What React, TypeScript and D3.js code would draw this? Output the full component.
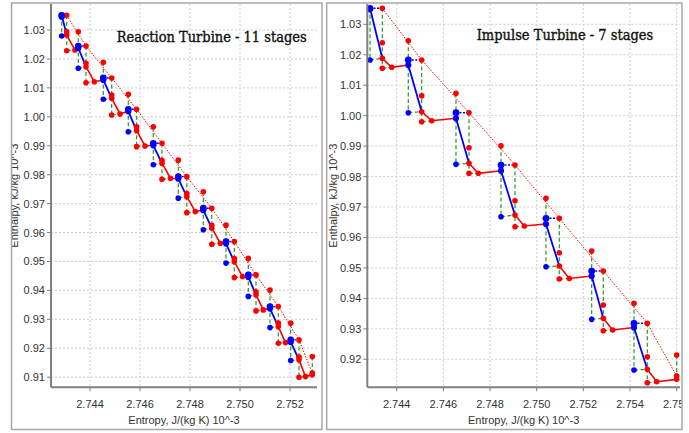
import React from "react";
import * as d3 from "d3";

// ---------- Reaction turbine – 11 stages ----------
const reactSIn = [2.742868, 2.743532, 2.744532, 2.745532, 2.746532, 2.747532, 2.748532, 2.74944, 2.750332, 2.7512, 2.752028];
const reactSNoz = [2.743068, 2.74384, 2.744868, 2.745864, 2.74688, 2.747872, 2.748872, 2.749772, 2.75064, 2.751532, 2.75236];
const reactSRot = [2.7434, 2.744172, 2.7452, 2.7462, 2.74722, 2.748212, 2.749212, 2.7501, 2.750932, 2.75182, 2.75262];
const reactHIn = [1.03508, 1.02447, 1.01342, 1.0026, 0.99085, 0.97931, 0.9684, 0.95686, 0.94535, 0.9344, 0.92289];
const reactHInAct = [1.03456, 1.02378, 1.01273, 1.00191, 0.99016, 0.97862, 0.96771, 0.95617, 0.94466, 0.93371, 0.9222];
const reactHIsen = [1.02793, 1.01677, 1.00606, 0.99486, 0.98343, 0.97188, 0.96097, 0.94943, 0.93792, 0.92714, 0.91574];
const reactHMid = [1.02941, 1.0185, 1.00754, 0.99659, 0.98498, 0.97344, 0.96252, 0.95098, 0.93947, 0.92867, 0.91692];
const reactHNoz = [1.02827, 1.01732, 1.0064, 0.99521, 0.98394, 0.9724, 0.96149, 0.94994, 0.93844, 0.92749, 0.91599];
const reactHRotIs = [1.02285, 1.01179, 1.00063, 0.98968, 0.97842, 0.96688, 0.95596, 0.94442, 0.93291, 0.92175, 0.90999];
const reactHRot = [1.02309, 1.01214, 1.00098, 0.98992, 0.97876, 0.96723, 0.95631, 0.94477, 0.93326, 0.92196, 0.9102];
const reactHAboveNext = [1.02941, 1.01884, 1.00778, 0.99659, 0.98502, 0.9741, 0.96256, 0.95105, 0.9401, 0.92867, 0.91713];
const reactSEnd = 2.752892;
const reactHEnd = 0.91139;
const reactHEndAct = 0.9108;

// ---------- Impulse turbine – 7 stages ----------
const impSIn = [2.742856, 2.744497, 2.746541, 2.74847, 2.750399, 2.752357, 2.75417];
const impSNoz = [2.743383, 2.745071, 2.747099, 2.74907, 2.750969, 2.752854, 2.75474];
const impSRot = [2.743786, 2.7455, 2.747497, 2.749469, 2.751397, 2.753257, 2.755143];
const impHIn = [1.03525, 1.01828, 1.00097, 0.98379, 0.96629, 0.94898, 0.93181];
const impHInAct = [1.03493, 1.01663, 0.99913, 0.98192, 0.96442, 0.94734, 0.93043];
const impHIsen = [1.01828, 1.00097, 0.98402, 0.96681, 0.95039, 0.93312, 0.91647];
const impHMid = [1.02396, 1.00655, 0.98947, 0.97207, 0.95499, 0.93782, 0.92084];
const impHNoz = [1.01883, 1.0013, 0.98435, 0.96737, 0.95062, 0.93345, 0.9167];
const impHRotIs = [1.01555, 0.99801, 0.98107, 0.96353, 0.94635, 0.92938, 0.9123];
const impHRot = [1.01588, 0.99834, 0.98107, 0.96376, 0.94652, 0.92961, 0.91263];
const impHAboveNext = [1.02461, 1.00734, 0.99013, 0.97286, 0.95555, 0.93837, 0.9214];
const impSEnd = 2.756;
const impHEnd = 0.9145;
const impHEndAct = 0.91341;

// ---------- ticks ----------
const reactXTicks = [2.744, 2.746, 2.748, 2.75, 2.752];
const reactYTicks = [1.03, 1.02, 1.01, 1.0, 0.99, 0.98, 0.97, 0.96, 0.95, 0.94, 0.93, 0.92, 0.91];
const impXTicks = [2.744, 2.746, 2.748, 2.75, 2.752, 2.754, 2.756];
const impYTicks = [1.03, 1.02, 1.01, 1.0, 0.99, 0.98, 0.97, 0.96, 0.95, 0.94, 0.93, 0.92];

const reactTitle = "Reaction Turbine - 11 stages";
const impTitle = "Impulse Turbine - 7 stages";
const xAxisTitle = "Entropy, J/(kg K) 10^-3";
const yAxisTitle = "Enthalpy, kJ/kg 10^-3";

type StageData = {
  sIn: number[]; sNoz: number[]; sRot: number[]; sEnd: number;
  hIn: number[]; hInAct: number[]; hIsen: number[]; hMid: number[]; hNoz: number[];
  hRotIs: number[]; hRot: number[]; hAboveNext: number[]; hEnd: number; hEndAct: number;
};

const BLUE = "#0000ff";
const RED = "#ff0000";
const GREEN = "#2a952a";
const SANS = "'Liberation Sans', Arial, sans-serif";

type PanelProps = {
  id: string;
  data: StageData;
  frame: { l: number; t: number; r: number; b: number };
  plot: { l: number; t: number; r: number; b: number };
  xDomain: [number, number];
  yDomain: [number, number];
  xTicks: number[];
  yTicks: number[];
  title: string;
  titleX: number;
  titleY: number;
  titleW: number;
  yTitleX: number;
};

function Panel(p: PanelProps) {
  const { data, plot, frame } = p;
  const x = d3.scaleLinear().domain(p.xDomain).range([plot.l, plot.r]);
  const y = d3.scaleLinear().domain(p.yDomain).range([plot.b, plot.t]);
  const n = data.sIn.length;
  const nextS = (i: number) => (i < n - 1 ? data.sIn[i + 1] : data.sEnd);
  const nextHIn = (i: number) => (i < n - 1 ? data.hIn[i + 1] : data.hEnd);
  const nextHAct = (i: number) => (i < n - 1 ? data.hInAct[i + 1] : data.hEndAct);
  const line = d3.line<[number, number]>().x((d) => x(d[0])).y((d) => y(d[1]));

  const green: [number, number][][] = [];
  const blueDot: [number, number][][] = [];
  const redSolid: [number, number][][] = [];
  const blueSolid: [number, number][][] = [];
  const redPts: [number, number][] = [];
  const bluePts: { p: [number, number]; r: number }[] = [];
  const redDotted: [number, number][] = [];

  for (let i = 0; i < n; i++) {
    const sIn = data.sIn[i], sNoz = data.sNoz[i], sRot = data.sRot[i];
    green.push([[sIn, data.hIn[i]], [sIn, data.hIsen[i]]]);
    green.push([[sIn, data.hIsen[i]], [sNoz, data.hNoz[i]]]);
    green.push([[sNoz, data.hIn[i]], [sNoz, data.hRotIs[i]]]);
    green.push([[sNoz, data.hRotIs[i]], [sRot, data.hRot[i]]]);
    green.push([[nextS(i), data.hAboveNext[i]], [nextS(i), nextHIn(i)]]);
    blueDot.push([[sIn, data.hIn[i]], [sNoz, data.hIn[i]]]);
    redSolid.push([[sNoz, data.hNoz[i]], [sRot, data.hRot[i]], [nextS(i), nextHAct(i)]]);
    blueSolid.push([[sIn, i === 0 ? data.hIn[i] : data.hInAct[i]], [sNoz, data.hNoz[i]]]);
    redDotted.push([sNoz, data.hIn[i]]);
    redPts.push([sNoz, data.hIn[i]], [sNoz, data.hMid[i]], [sNoz, data.hNoz[i]],
      [sNoz, data.hRotIs[i]], [sRot, data.hRot[i]], [nextS(i), data.hAboveNext[i]]);
    bluePts.push({ p: [sIn, data.hIn[i]], r: 3.4 }, { p: [sIn, data.hInAct[i]], r: 3.1 }, { p: [sIn, data.hIsen[i]], r: 2.8 });
  }
  redDotted.push([data.sEnd, data.hEnd]);
  redPts.push([data.sEnd, data.hEnd], [data.sEnd, data.hEndAct]);

  const clipId = `clip-${p.id}`;
  const axisY = plot.b;
  return (
    <g>
      <defs>
        <clipPath id={clipId}>
          <rect x={frame.l} y={frame.t} width={frame.r - frame.l} height={frame.b - frame.t} />
        </clipPath>
      </defs>
      <g clipPath={`url(#${clipId})`}>
        <rect x={frame.l} y={frame.t} width={frame.r - frame.l} height={frame.b - frame.t} fill="#fff" />
        {p.xTicks.map((t) => (
          <line key={`gx${t}`} x1={x(t)} x2={x(t)} y1={plot.t} y2={plot.b} stroke="#cfcfcf" strokeDasharray="2,2" />
        ))}
        {p.yTicks.map((t) => (
          <line key={`gy${t}`} x1={plot.l} x2={plot.r} y1={y(t)} y2={y(t)} stroke="#cfcfcf" strokeDasharray="2,2" />
        ))}
        {green.map((seg, i) => (
          <path key={`g${i}`} d={line(seg) || ""} stroke={GREEN} strokeWidth={1.2} strokeDasharray="4,2.5" fill="none" />
        ))}
        <path d={line(redDotted) || ""} stroke={RED} strokeWidth={1} strokeDasharray="1.5,1.5" fill="none" />
        {blueDot.map((seg, i) => (
          <path key={`bd${i}`} d={line(seg) || ""} stroke={BLUE} strokeWidth={1.4} strokeDasharray="2,1.5" fill="none" />
        ))}
        {redSolid.map((seg, i) => (
          <path key={`rs${i}`} d={line(seg) || ""} stroke={RED} strokeWidth={1.6} fill="none" />
        ))}
        {blueSolid.map((seg, i) => (
          <path key={`bs${i}`} d={line(seg) || ""} stroke={BLUE} strokeWidth={1.8} fill="none" />
        ))}
        {redPts.map((pt, i) => (
          <circle key={`rp${i}`} cx={x(pt[0])} cy={y(pt[1])} r={2.8} fill={RED} />
        ))}
        {bluePts.map((b, i) => (
          <circle key={`bp${i}`} cx={x(b.p[0])} cy={y(b.p[1])} r={b.r} fill={BLUE} />
        ))}
        <line x1={plot.l} x2={plot.l} y1={plot.t} y2={plot.b} stroke="#808080" strokeWidth={2} />
        <line x1={plot.l} x2={plot.r} y1={axisY} y2={axisY} stroke="#808080" strokeWidth={2} />
        {p.xTicks.map((t) => (
          <g key={`xt${t}`}>
            <line x1={x(t)} x2={x(t)} y1={axisY} y2={axisY + 4} stroke="#808080" />
            <text x={x(t)} y={axisY + 21} textAnchor="middle" fontSize={11} fontFamily={SANS} fill="#333">
              {d3.format(".3f")(t)}
            </text>
          </g>
        ))}
        {p.yTicks.map((t) => (
          <g key={`yt${t}`}>
            <line x1={plot.l - 4} x2={plot.l} y1={y(t)} y2={y(t)} stroke="#808080" />
            <text x={plot.l - 6} y={y(t) + 4} textAnchor="end" fontSize={11} fontFamily={SANS} fill="#333">
              {d3.format(".2f")(t)}
            </text>
          </g>
        ))}
        <text x={(plot.l + plot.r) / 2} y={axisY + 37} textAnchor="middle" fontSize={11} fontFamily={SANS} fill="#333">
          {xAxisTitle}
        </text>
        <text
          transform={`translate(${p.yTitleX},${(plot.t + plot.b) / 2}) rotate(-90)`}
          textAnchor="middle"
          fontSize={11}
          fontFamily={SANS}
          fill="#333"
        >
          {yAxisTitle}
        </text>
        <text
          x={p.titleX}
          y={p.titleY}
          fontSize={15}
          fontFamily="'DejaVu Serif', serif"
          fill="#111"
          stroke="#111"
          strokeWidth={0.4}
          textLength={p.titleW}
          lengthAdjust="spacingAndGlyphs"
        >
          {p.title}
        </text>
      </g>
      <rect
        x={frame.l}
        y={frame.t}
        width={frame.r - frame.l}
        height={frame.b - frame.t}
        fill="none"
        stroke="#a8a8a8"
        strokeWidth={1.5}
      />
    </g>
  );
}

const reactData: StageData = {
  sIn: reactSIn, sNoz: reactSNoz, sRot: reactSRot, sEnd: reactSEnd,
  hIn: reactHIn, hInAct: reactHInAct, hIsen: reactHIsen, hMid: reactHMid, hNoz: reactHNoz,
  hRotIs: reactHRotIs, hRot: reactHRot, hAboveNext: reactHAboveNext, hEnd: reactHEnd, hEndAct: reactHEndAct,
};
const impData: StageData = {
  sIn: impSIn, sNoz: impSNoz, sRot: impSRot, sEnd: impSEnd,
  hIn: impHIn, hInAct: impHInAct, hIsen: impHIsen, hMid: impHMid, hNoz: impHNoz,
  hRotIs: impHRotIs, hRot: impHRot, hAboveNext: impHAboveNext, hEnd: impHEnd, hEndAct: impHEndAct,
};

export default function App() {
  return (
    <svg
      width={689}
      height={433}
      style={{ position: "absolute", left: 0, top: 0, background: "#fff" }}
      xmlns="http://www.w3.org/2000/svg"
    >
      <rect x={0} y={0} width={689} height={433} fill="#fff" />
      <Panel
        id="react"
        data={reactData}
        frame={{ l: 11.5, t: 3, r: 322, b: 429.5 }}
        plot={{ l: 51, t: 4, r: 317, b: 387.3 }}
        xDomain={[2.74244, 2.75308]}
        yDomain={[0.9065, 1.039]}
        xTicks={reactXTicks}
        yTicks={reactYTicks}
        title={reactTitle}
        titleX={116.7}
        titleY={41.5}
        titleW={190}
        yTitleX={18}
      />
      <Panel
        id="imp"
        data={impData}
        frame={{ l: 326.7, t: 3, r: 682, b: 429.5 }}
        plot={{ l: 367.3, t: 4, r: 680, b: 387.3 }}
        xDomain={[2.74274, 2.756142]}
        yDomain={[0.9108, 1.03667]}
        xTicks={impXTicks}
        yTicks={impYTicks}
        title={impTitle}
        titleX={476.7}
        titleY={39.5}
        titleW={176.6}
        yTitleX={337}
      />
    </svg>
  );
}
